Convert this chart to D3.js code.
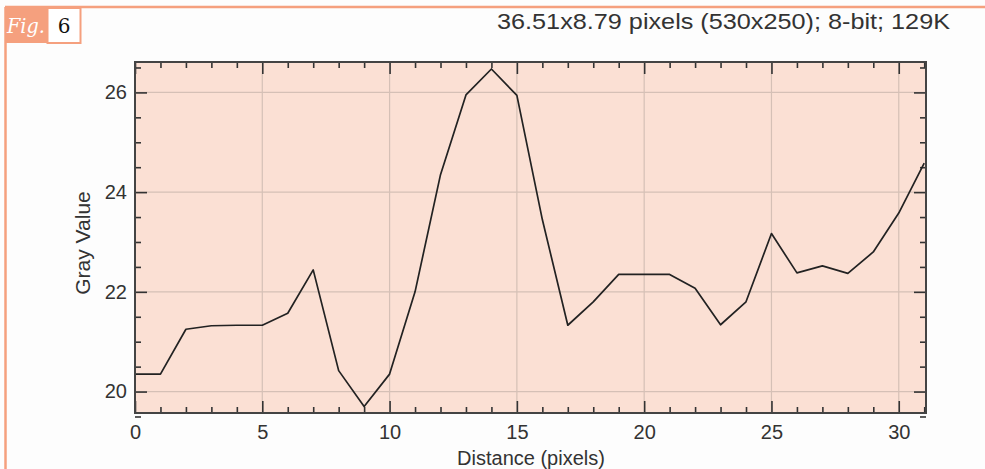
<!DOCTYPE html>
<html lang="en">
<head>
    <meta charset="UTF-8">
    <title>Gray Value profile</title>
    <script src="https://d3js.org/d3.v7.min.js"></script>
    <style>
        body {
            margin: 0;
            background: #fdfdfd;
            font-family: "Liberation Sans", Arial, sans-serif;
        }
    </style>
</head>
<body>
    <div class="chart"></div>

    <script>
        // profile data
        const distance = [0, 1, 2, 3, 4, 5, 6, 7, 8, 9, 10, 11, 12, 13, 14, 15,
            16, 17, 18, 19, 20, 21, 22, 23, 24, 25, 26, 27, 28, 29, 30, 31];
        const grayValue = [20.35, 20.35, 21.25, 21.32, 21.33, 21.33, 21.57, 22.44,
            20.42, 19.7, 20.35, 22.0, 24.35, 25.95, 26.47, 25.94,
            23.45, 21.33, 21.8, 22.35, 22.35, 22.35, 22.07, 21.34,
            21.8, 23.17, 22.38, 22.52, 22.37, 22.8, 23.58, 24.58];
        const xTicks = [0, 5, 10, 15, 20, 25, 30];
        const yTicks = [20, 22, 24, 26];
        const header = '36.51x8.79 pixels (530x250); 8-bit; 129K';
        const figNumber = '6';

        const svgWidth = 985;
        const svgHeight = 469;
        const plot = { left: 135, top: 62, right: 926, bottom: 413 };
        const accent = '#f5a07e';
        const labelSize = '20px';

        const svg = d3.select('.chart')
            .append('svg')
            .attr('width', svgWidth)
            .attr('height', svgHeight);

        // figure frame
        svg.append('line')
            .attr('x1', 5).attr('x2', svgWidth).attr('y1', 7).attr('y2', 7)
            .attr('stroke', accent).attr('stroke-width', 2.5);
        svg.append('line')
            .attr('x1', 5.5).attr('x2', 5.5).attr('y1', 7).attr('y2', svgHeight)
            .attr('stroke', accent).attr('stroke-width', 2.5);
        svg.append('rect')
            .attr('x', 5).attr('y', 7).attr('width', 42).attr('height', 36)
            .attr('fill', accent);
        svg.append('rect')
            .attr('x', 47.5).attr('y', 8).attr('width', 33).attr('height', 35)
            .attr('fill', '#fff').attr('stroke', accent).attr('stroke-width', 2);
        svg.append('text')
            .attr('x', 7).attr('y', 33)
            .attr('fill', '#fff')
            .style('font-family', 'DejaVu Serif, Georgia, serif')
            .style('font-style', 'italic')
            .style('font-size', '20px')
            .attr('textLength', 38)
            .attr('lengthAdjust', 'spacingAndGlyphs')
            .text('Fig.');
        svg.append('text')
            .attr('x', 64).attr('y', 33)
            .attr('text-anchor', 'middle')
            .attr('fill', '#111')
            .style('font-family', 'DejaVu Serif, Georgia, serif')
            .style('font-size', '20px')
            .text(figNumber);

        svg.append('text')
            .attr('x', 497).attr('y', 29)
            .attr('fill', '#333')
            .style('font-size', '22.5px')
            .attr('textLength', 453)
            .attr('lengthAdjust', 'spacingAndGlyphs')
            .text(header);

        const xScale = d3.scaleLinear()
            .domain([0, 31.07])
            .range([plot.left, plot.right]);

        const yScale = d3.scaleLinear()
            .domain([19.57, 26.61])
            .range([plot.bottom, plot.top]);

        // plot background
        svg.append('rect')
            .attr('x', plot.left).attr('y', plot.top)
            .attr('width', plot.right - plot.left)
            .attr('height', plot.bottom - plot.top)
            .attr('fill', '#fbe0d4');

        // grid
        svg.append('g')
            .selectAll('line')
            .data(xTicks)
            .enter()
            .append('line')
            .attr('x1', d => xScale(d)).attr('x2', d => xScale(d))
            .attr('y1', plot.top).attr('y2', plot.bottom)
            .attr('stroke', '#d5c0b6').attr('stroke-width', 1.2);
        svg.append('g')
            .selectAll('line')
            .data(yTicks)
            .enter()
            .append('line')
            .attr('x1', plot.left).attr('x2', plot.right)
            .attr('y1', d => yScale(d)).attr('y2', d => yScale(d))
            .attr('stroke', '#d5c0b6').attr('stroke-width', 1.2);

        // inward ticks on all four sides
        const xMinor = d3.range(0, 32, 1).filter(d => d % 5 !== 0);
        const yMinor = d3.range(19.5, 26.6, 0.5).filter(d => d % 2 !== 0);

        function tickAxis(axisFn, scale, values, size, transform) {
            svg.append('g')
                .attr('transform', transform)
                .call(axisFn(scale).tickValues(values).tickSize(size).tickFormat(''))
                .call(g => g.select('.domain').remove())
                .call(g => g.selectAll('.tick line')
                    .attr('stroke', '#333').attr('stroke-width', 1.6));
        }

        tickAxis(d3.axisTop, xScale, xTicks, 12, `translate(0,${plot.bottom})`);
        tickAxis(d3.axisTop, xScale, xMinor, 6, `translate(0,${plot.bottom})`);
        tickAxis(d3.axisBottom, xScale, xTicks, 12, `translate(0,${plot.top})`);
        tickAxis(d3.axisBottom, xScale, xMinor, 6, `translate(0,${plot.top})`);
        tickAxis(d3.axisRight, yScale, yTicks, 12, `translate(${plot.left},0)`);
        tickAxis(d3.axisRight, yScale, yMinor, 6, `translate(${plot.left},0)`);
        tickAxis(d3.axisLeft, yScale, yTicks, 12, `translate(${plot.right},0)`);
        tickAxis(d3.axisLeft, yScale, yMinor, 6, `translate(${plot.right},0)`);

        // tick labels
        svg.append('g')
            .attr('transform', `translate(0,${plot.bottom})`)
            .call(d3.axisBottom(xScale).tickValues(xTicks).tickSize(0).tickPadding(12)
                .tickFormat(d3.format('d')))
            .call(g => g.select('.domain').remove())
            .call(g => g.selectAll('text')
                .attr('fill', '#333')
                .style('font-family', '"Liberation Sans", Arial, sans-serif')
                .style('font-size', labelSize));

        svg.append('g')
            .attr('transform', `translate(${plot.left},0)`)
            .call(d3.axisLeft(yScale).tickValues(yTicks).tickSize(0).tickPadding(8)
                .tickFormat(d3.format('d')))
            .call(g => g.select('.domain').remove())
            .call(g => g.selectAll('text')
                .attr('fill', '#333')
                .style('font-family', '"Liberation Sans", Arial, sans-serif')
                .style('font-size', labelSize));

        // profile line
        const line = d3.line()
            .x((d, i) => xScale(distance[i]))
            .y(d => yScale(d));

        svg.append('path')
            .datum(grayValue)
            .attr('d', line)
            .attr('fill', 'none')
            .attr('stroke', '#222')
            .attr('stroke-width', 1.7)
            .attr('stroke-linejoin', 'round');

        // plot frame
        svg.append('rect')
            .attr('x', plot.left).attr('y', plot.top)
            .attr('width', plot.right - plot.left)
            .attr('height', plot.bottom - plot.top)
            .attr('fill', 'none')
            .attr('stroke', '#444')
            .attr('stroke-width', 2);

        // axis titles
        svg.append('text')
            .attr('x', 531)
            .attr('y', 465)
            .attr('text-anchor', 'middle')
            .attr('fill', '#333')
            .style('font-size', labelSize)
            .text('Distance (pixels)');

        svg.append('text')
            .attr('transform', `translate(90,243) rotate(-90)`)
            .attr('text-anchor', 'middle')
            .attr('fill', '#333')
            .style('font-size', '21px')
            .text('Gray Value');
    </script>
</body>
</html>
